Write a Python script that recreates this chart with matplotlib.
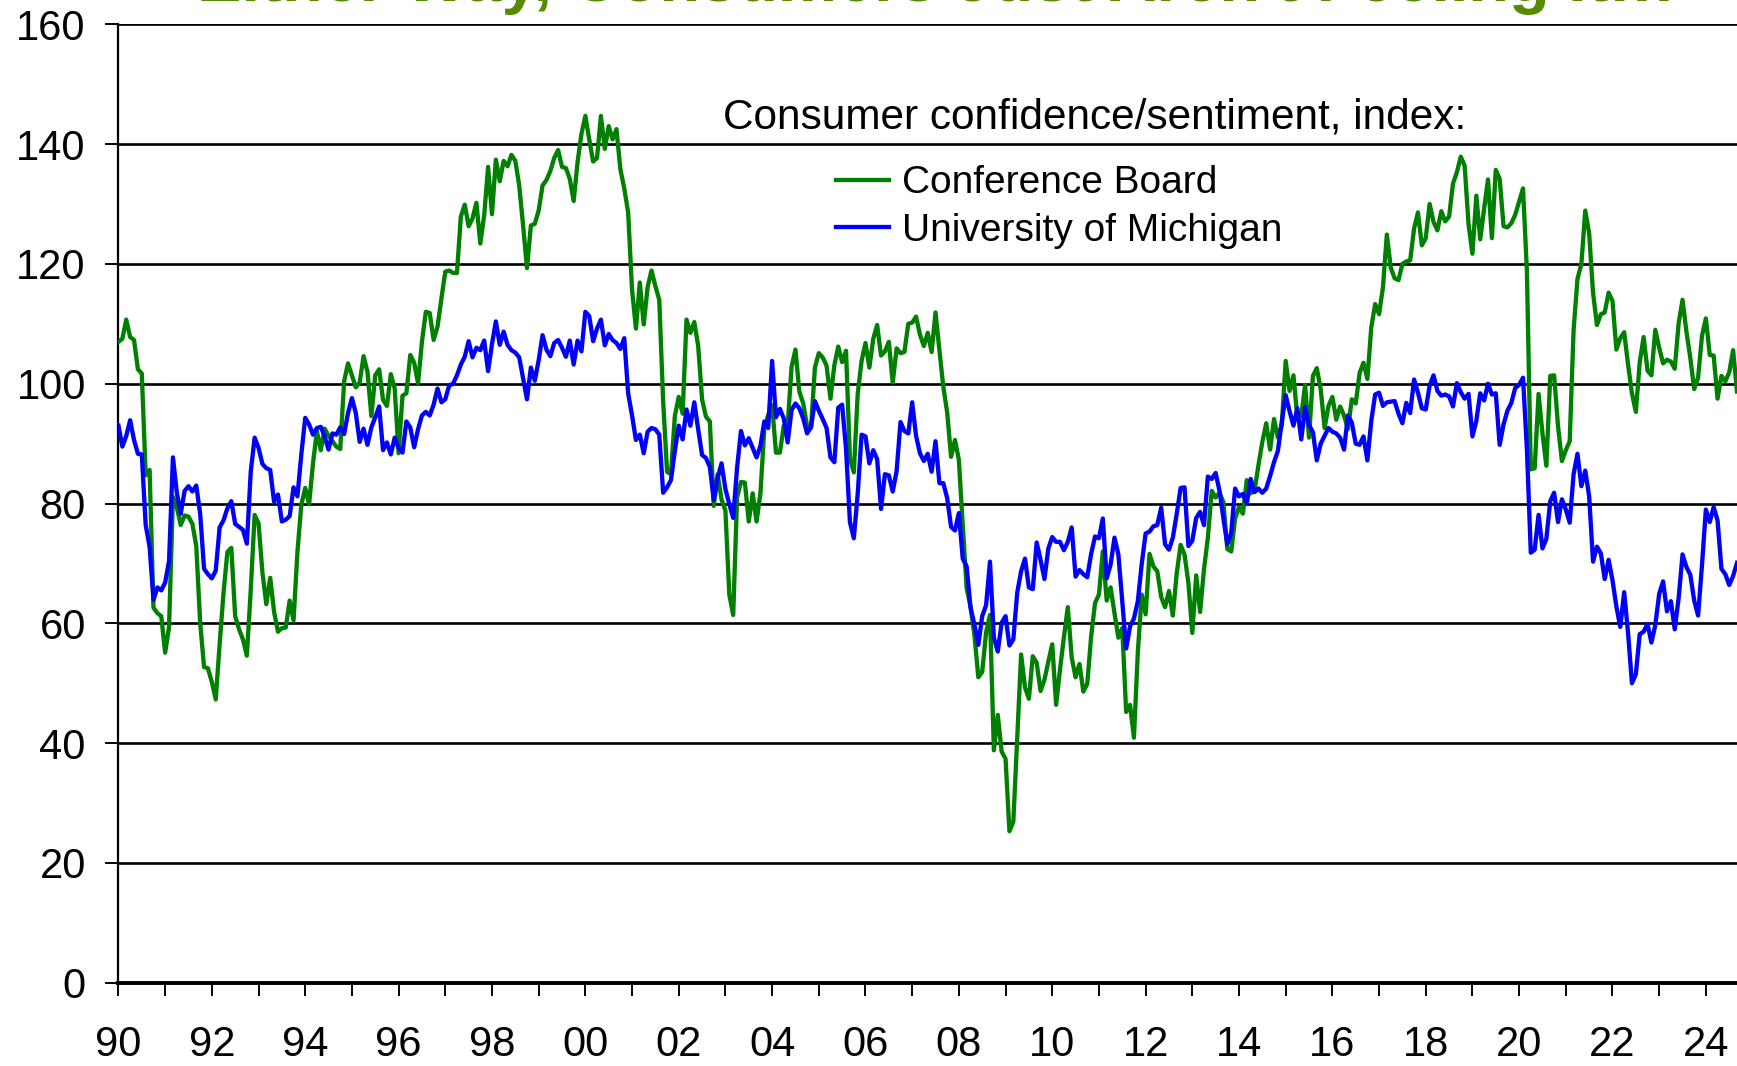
import numpy as np
import matplotlib
matplotlib.use("Agg")
import matplotlib.pyplot as plt

# Datos mensuales, enero 1990 - septiembre 2024
conference_board = [
    107.0, 107.5, 110.7, 107.8, 107.3, 102.4, 101.7, 84.7, 85.6, 62.6, 61.7, 61.2,   # 1990
    55.1, 59.4, 81.1, 79.4, 76.4, 78.0, 77.8, 76.6, 72.9, 60.1, 52.7, 52.5,          # 1991
    50.2, 47.3, 56.5, 65.1, 71.9, 72.6, 61.2, 59.0, 57.3, 54.6, 65.6, 78.1,          # 1992
    76.7, 68.5, 63.2, 67.6, 61.9, 58.6, 59.2, 59.3, 63.8, 60.5, 71.9, 79.8,          # 1993
    82.6, 79.9, 86.7, 92.1, 88.9, 92.5, 91.3, 90.4, 89.5, 89.1, 100.4, 103.4,        # 1994
    101.4, 99.4, 100.2, 104.6, 102.0, 94.6, 101.4, 102.4, 97.3, 96.3, 101.6, 99.2,   # 1995
    88.4, 98.0, 98.4, 104.8, 103.5, 100.1, 107.0, 112.0, 111.8, 107.3, 109.5, 114.2, # 1996
    118.7, 118.9, 118.5, 118.5, 127.9, 129.9, 126.3, 127.6, 130.2, 123.4, 128.1, 136.2,  # 1997
    128.3, 137.4, 133.8, 137.2, 136.3, 138.2, 137.2, 133.1, 126.4, 119.3, 126.4, 126.7,  # 1998
    128.9, 133.1, 134.0, 135.5, 137.7, 139.0, 136.2, 136.0, 134.2, 130.5, 137.0, 141.7,  # 1999
    144.7, 140.8, 137.1, 137.7, 144.7, 139.2, 143.0, 140.8, 142.5, 135.8, 132.6, 128.6,  # 2000
    115.7, 109.2, 116.9, 109.9, 116.1, 118.9, 116.3, 114.0, 97.0, 85.3, 84.9, 94.6,  # 2001
    97.8, 95.0, 110.7, 108.5, 110.3, 106.3, 97.4, 94.5, 93.7, 79.6, 84.9, 80.7,      # 2002
    78.8, 64.8, 61.4, 81.0, 83.6, 83.5, 77.0, 81.7, 77.0, 81.7, 92.5, 94.8,          # 2003
    96.4, 88.5, 88.5, 93.0, 93.1, 102.8, 105.7, 98.7, 96.7, 92.9, 92.6, 102.7,       # 2004
    105.1, 104.4, 103.0, 97.5, 103.1, 106.2, 103.6, 105.5, 87.5, 85.2, 98.3, 103.8,  # 2005
    106.8, 102.7, 107.5, 109.8, 104.7, 105.4, 107.0, 100.2, 105.9, 105.1, 105.3, 110.0,  # 2006
    110.2, 111.2, 108.2, 106.3, 108.5, 105.3, 111.9, 105.6, 99.5, 95.2, 87.8, 90.6,  # 2007
    87.3, 76.4, 65.9, 62.8, 58.1, 51.0, 51.9, 58.5, 61.4, 38.8, 44.7, 38.6,          # 2008
    37.4, 25.3, 26.9, 40.8, 54.8, 49.3, 47.4, 54.5, 53.4, 48.7, 50.6, 53.6,          # 2009
    56.5, 46.4, 52.3, 57.7, 62.7, 54.3, 51.0, 53.2, 48.6, 49.9, 57.8, 63.4,          # 2010
    64.8, 72.0, 63.8, 66.0, 61.7, 57.6, 59.2, 45.2, 46.4, 40.9, 55.2, 64.8,          # 2011
    61.5, 71.6, 69.5, 68.7, 64.4, 62.7, 65.4, 61.3, 68.4, 73.1, 71.5, 66.7,          # 2012
    58.4, 68.0, 61.9, 69.0, 74.3, 82.1, 81.0, 81.8, 80.2, 72.4, 72.0, 77.5,          # 2013
    79.4, 78.3, 83.9, 81.7, 82.2, 86.4, 90.3, 93.4, 89.0, 94.1, 91.0, 93.1,          # 2014
    103.8, 98.8, 101.4, 94.3, 94.6, 99.8, 91.0, 101.3, 102.6, 99.1, 92.6, 96.3,      # 2015
    97.8, 94.0, 96.2, 94.7, 92.4, 97.4, 96.7, 101.8, 103.5, 100.8, 109.4, 113.3,     # 2016
    111.6, 116.1, 124.9, 119.4, 117.6, 117.3, 120.0, 120.4, 120.6, 125.9, 128.6, 123.1,  # 2017
    124.3, 130.0, 127.0, 125.6, 128.8, 127.1, 127.9, 133.4, 135.3, 137.9, 136.4, 126.6,  # 2018
    121.7, 131.4, 124.1, 129.2, 134.1, 124.3, 135.7, 134.2, 126.3, 126.1, 126.8, 128.2,  # 2019
    130.4, 132.6, 118.8, 85.7, 85.9, 98.3, 91.7, 86.3, 101.3, 101.4, 92.9, 87.1,     # 2020
    88.9, 90.4, 109.0, 117.5, 120.0, 128.9, 125.1, 115.2, 109.8, 111.6, 111.9, 115.2,  # 2021
    113.8, 105.7, 107.6, 108.6, 103.2, 98.4, 95.3, 103.6, 107.8, 102.2, 101.4, 109.0,  # 2022
    106.0, 103.4, 104.0, 103.7, 102.5, 110.1, 114.0, 108.7, 104.3, 99.1, 101.0, 108.0,  # 2023
    110.9, 104.8, 104.7, 97.5, 101.3, 100.4, 101.9, 105.6, 98.7,                     # 2024
]

michigan = [
    93.0, 89.5, 91.3, 93.9, 90.6, 88.3, 88.2, 76.4, 72.8, 63.9, 66.0, 65.5,   # 1990
    66.8, 70.4, 87.7, 81.8, 78.3, 82.1, 82.9, 82.0, 83.0, 78.3, 69.1, 68.2,   # 1991
    67.5, 68.8, 76.0, 77.2, 79.2, 80.4, 76.6, 76.1, 75.6, 73.3, 85.3, 91.0,   # 1992
    89.3, 86.6, 85.9, 85.6, 80.3, 81.5, 77.0, 77.3, 77.9, 82.7, 81.2, 88.2,   # 1993
    94.3, 93.2, 91.5, 92.6, 92.8, 91.2, 89.0, 91.7, 91.5, 92.7, 91.6, 95.1,   # 1994
    97.6, 95.1, 90.3, 92.5, 89.8, 92.7, 94.4, 96.2, 88.9, 90.2, 88.2, 91.0,   # 1995
    89.3, 88.5, 93.7, 92.7, 89.4, 92.4, 94.7, 95.3, 94.7, 96.5, 99.2, 96.9,   # 1996
    97.4, 99.7, 100.0, 101.4, 103.2, 104.5, 107.1, 104.4, 106.0, 105.6, 107.2, 102.1,  # 1997
    106.6, 110.4, 106.5, 108.7, 106.5, 105.6, 105.2, 104.4, 100.9, 97.4, 102.7, 100.5,  # 1998
    103.9, 108.1, 105.7, 104.6, 106.8, 107.3, 106.0, 104.5, 107.2, 103.2, 107.2, 105.4,  # 1999
    112.0, 111.3, 107.1, 109.2, 110.7, 106.4, 108.3, 107.3, 106.8, 105.8, 107.6, 98.4,  # 2000
    94.7, 90.6, 91.5, 88.4, 92.0, 92.6, 92.4, 91.5, 81.8, 82.7, 83.9, 88.8,   # 2001
    93.0, 90.7, 95.7, 93.0, 96.9, 92.4, 88.1, 87.6, 86.1, 80.6, 84.2, 86.7,   # 2002
    82.4, 79.9, 77.6, 86.0, 92.1, 89.7, 90.9, 89.3, 87.7, 89.6, 93.7, 92.6,   # 2003
    103.8, 94.4, 95.8, 94.2, 90.2, 95.6, 96.7, 95.9, 94.2, 91.7, 92.8, 97.1,  # 2004
    95.5, 94.1, 92.6, 87.7, 86.9, 96.0, 96.5, 89.1, 76.9, 74.2, 81.6, 91.5,   # 2005
    91.2, 86.7, 88.9, 87.4, 79.1, 84.9, 84.7, 82.0, 85.4, 93.6, 92.1, 91.7,   # 2006
    96.9, 91.3, 88.4, 87.1, 88.3, 85.3, 90.4, 83.4, 83.4, 80.9, 76.1, 75.5,   # 2007
    78.4, 70.8, 69.5, 62.6, 59.8, 56.4, 61.2, 63.0, 70.3, 57.6, 55.3, 60.1,   # 2008
    61.2, 56.3, 57.3, 65.1, 68.7, 70.8, 66.0, 65.7, 73.5, 70.6, 67.4, 72.5,   # 2009
    74.4, 73.6, 73.6, 72.2, 73.6, 76.0, 67.8, 68.9, 68.2, 67.7, 71.6, 74.5,   # 2010
    74.2, 77.5, 67.5, 69.8, 74.3, 71.5, 63.7, 55.8, 59.5, 60.8, 63.7, 69.9,   # 2011
    75.0, 75.3, 76.2, 76.4, 79.3, 73.2, 72.3, 74.3, 78.3, 82.6, 82.7, 72.9,   # 2012
    73.8, 77.6, 78.6, 76.4, 84.5, 84.1, 85.1, 82.1, 77.5, 73.2, 75.1, 82.5,   # 2013
    81.2, 81.6, 80.0, 84.1, 81.9, 82.5, 81.8, 82.5, 84.6, 86.9, 88.8, 93.6,   # 2014
    98.1, 95.4, 93.0, 95.9, 90.7, 96.1, 93.1, 91.9, 87.2, 90.0, 91.3, 92.6,   # 2015
    92.0, 91.7, 91.0, 89.0, 94.7, 93.5, 90.0, 89.8, 91.2, 87.2, 93.8, 98.2,   # 2016
    98.5, 96.3, 96.9, 97.0, 97.1, 95.0, 93.4, 96.8, 95.1, 100.7, 98.5, 95.9,  # 2017
    95.7, 99.7, 101.4, 98.8, 98.0, 98.2, 97.9, 96.2, 100.1, 98.6, 97.5, 98.3, # 2018
    91.2, 93.8, 98.4, 97.2, 100.0, 98.2, 98.4, 89.8, 93.2, 95.5, 96.8, 99.3,  # 2019
    99.8, 101.0, 89.1, 71.8, 72.3, 78.1, 72.5, 74.1, 80.4, 81.8, 76.9, 80.7,  # 2020
    79.0, 76.8, 84.9, 88.3, 82.9, 85.5, 81.2, 70.3, 72.8, 71.7, 67.4, 70.6,   # 2021
    67.2, 62.8, 59.4, 65.2, 58.4, 50.0, 51.5, 58.2, 58.6, 59.9, 56.8, 59.7,   # 2022
    64.9, 67.0, 62.0, 63.7, 59.0, 64.2, 71.5, 69.4, 68.1, 63.8, 61.3, 69.7,   # 2023
    79.0, 76.9, 79.4, 77.2, 69.1, 68.2, 66.4, 67.9, 70.1,                     # 2024
]

start_year = 1990
year_ticks = list(range(1990, 2025))
y_ticks = [0, 20, 40, 60, 80, 100, 120, 140, 160]

titulo = "Either Way, Consumers Just Aren't Feeling It!!!"
encabezado = "Consumer confidence/sentiment, index:"
etiquetas = ["Conference Board", "University of Michigan"]

plt.rcParams['font.family'] = ['Liberation Sans', 'DejaVu Sans']

fechas_cb = start_year + np.arange(len(conference_board)) / 12.0
fechas_um = start_year + np.arange(len(michigan)) / 12.0

fig = plt.figure(figsize=(17.37, 10.66), dpi=100)
ax = fig.add_axes([0.0682, 0.0781, 0.9318, 0.8991])

# Rejilla horizontal
for v in y_ticks[1:]:
    ax.axhline(v, color='black', lw=1.9, zorder=1)

ax.plot(fechas_cb, conference_board, color='#008000', lw=3.1, label=etiquetas[0], zorder=3)
ax.plot(fechas_um, michigan, color='#0000FF', lw=3.1, label=etiquetas[1], zorder=3)

ax.set_xlim(1990, fechas_cb[-1])
ax.set_ylim(0, 160)

ax.set_yticks(y_ticks)
ax.set_yticklabels([str(v) for v in y_ticks])
ax.set_xticks(year_ticks)
ax.set_xticklabels([("%02d" % (y % 100)) if y % 2 == 0 else "" for y in year_ticks])

ax.tick_params(axis='y', direction='out', length=9.5, width=1.4, pad=14, labelsize=30)
ax.tick_params(axis='x', direction='out', length=9.5, width=1.4, pad=21, labelsize=30)

for s in ['top', 'right']:
    ax.spines[s].set_visible(False)
ax.spines['left'].set_linewidth(1.6)
ax.spines['bottom'].set_linewidth(2.8)

fig.text(0.4163, 0.890, encabezado, fontsize=30.5, va='center', ha='left')
ax.legend(loc='upper left', bbox_to_anchor=(0.4813, 0.845), bbox_transform=fig.transFigure,
          frameon=False, fontsize=28, handlelength=1.36, handletextpad=0.33,
          labelspacing=0.29, borderpad=0, borderaxespad=0)

# Titulo cortado por arriba, como en el original
fig.text(0.539, 0.9992, titulo, fontsize=48, fontweight='bold', color='#558B00',
         ha='center', va='baseline')

fig.savefig('out.png', dpi=100)
